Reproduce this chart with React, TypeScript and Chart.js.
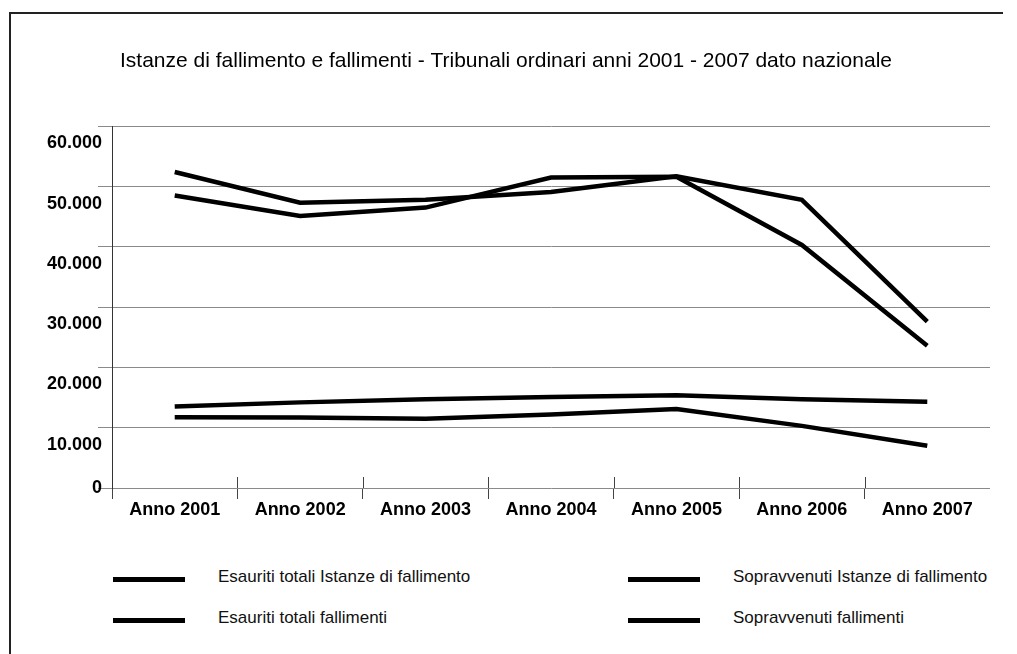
import React, { useEffect, useRef } from 'react';
import { Chart, registerables } from 'chart.js';

Chart.register(...registerables);

const categories = ['Anno 2001', 'Anno 2002', 'Anno 2003', 'Anno 2004', 'Anno 2005', 'Anno 2006', 'Anno 2007'];

const esauritiIstanze = [52400, 47300, 47800, 49100, 51700, 47800, 27600];
const sopravvenutiIstanze = [48500, 45100, 46500, 51500, 51600, 40300, 23600];
const esauritiFallimenti = [13500, 14200, 14700, 15100, 15400, 14700, 14300];
const sopravvenutiFallimenti = [11750, 11700, 11500, 12200, 13100, 10300, 7000];

const seriesLabels = [
  'Esauriti totali Istanze di fallimento',
  'Sopravvenuti Istanze di fallimento',
  'Esauriti totali fallimenti',
  'Sopravvenuti fallimenti',
];

const yTickValues = [0, 10000, 20000, 30000, 40000, 50000, 60000];
const yTickLabels = ['0', '10.000', '20.000', '30.000', '40.000', '50.000', '60.000'];

const titleText = 'Istanze di fallimento e fallimenti - Tribunali ordinari anni 2001 - 2007 dato nazionale';

const FONT = "'Liberation Sans', Arial, Helvetica, sans-serif";

const seriesData = [esauritiIstanze, sopravvenutiIstanze, esauritiFallimenti, sopravvenutiFallimenti];

const crossTicksPlugin = {
  id: 'crossTicks',
  afterDraw(chart: any) {
    const xs = chart.scales.x;
    const ctx = chart.ctx;
    const bottom = chart.chartArea.bottom;
    ctx.save();
    ctx.strokeStyle = '#444';
    ctx.lineWidth = 1;
    for (let i = 1; i < categories.length; i++) {
      const x = Math.round((xs.getPixelForTick(i - 1) + xs.getPixelForTick(i)) / 2) + 0.5;
      ctx.beginPath();
      ctx.moveTo(x, bottom - 11);
      ctx.lineTo(x, bottom);
      ctx.stroke();
    }
    ctx.restore();
  },
};

export default function App() {
  const canvasRef = useRef<HTMLCanvasElement | null>(null);

  useEffect(() => {
    if (!canvasRef.current) return;
    const chart = new Chart(canvasRef.current, {
      type: 'line',
      data: {
        labels: categories,
        datasets: seriesData.map((d, i) => ({
          label: seriesLabels[i],
          data: d,
          borderColor: '#000',
          backgroundColor: '#000',
          borderWidth: 4.5,
          pointRadius: 0,
          pointHoverRadius: 0,
          tension: 0,
          fill: false,
          borderJoinStyle: 'miter' as const,
          borderCapStyle: 'butt' as const,
        })),
      },
      options: {
        responsive: false,
        animation: false,
        devicePixelRatio: 1,
        layout: { padding: { left: 22, right: 27, top: 0, bottom: 0 } },
        plugins: {
          legend: { display: false },
          tooltip: { enabled: false },
          title: {
            display: true,
            text: titleText,
            color: '#000',
            font: { family: FONT, size: 21, weight: 'normal' },
            padding: { top: 49, bottom: 52 },
          },
        },
        scales: {
          x: {
            type: 'category',
            offset: true,
            grid: {
              offset: true,
              drawOnChartArea: false,
              drawTicks: true,
              tickLength: 11,
              color: (ctx: any) => (ctx.type === 'tick' ? '#444' : 'rgba(0,0,0,0)'),
            },
            border: { display: false },
            ticks: {
              color: '#000',
              padding: 0,
              maxRotation: 0,
              autoSkip: false,
              font: { family: FONT, size: 18, weight: 'bold' },
            },
            afterFit: (scale: any) => {
              scale.height = 45;
            },
          },
          y: {
            min: 0,
            max: 60000,
            ticks: {
              stepSize: 10000,
              autoSkip: false,
              color: '#000',
              padding: -4,
              font: { family: FONT, size: 18, weight: 'bold', lineHeight: 1.9 },
              callback: (value: any) => {
                const idx = yTickValues.indexOf(Number(value));
                const label = idx >= 0 ? yTickLabels[idx] : '';
                return Number(value) === 0 ? label : ['', label];
              },
            },
            grid: {
              color: '#8a8a8a',
              lineWidth: 1,
              tickLength: 14,
              drawTicks: true,
            },
            border: { display: true, color: '#333', width: 1 },
            afterFit: (scale: any) => {
              scale.width = 90;
            },
          },
        },
      },
      plugins: [crossTicksPlugin],
    });
    return () => chart.destroy();
  }, []);

  return (
    <div
      style={{
        position: 'fixed',
        left: 0,
        top: 0,
        width: 1017,
        height: 654,
        background: '#fff',
        overflow: 'hidden',
        fontFamily: FONT,
      }}
    >
      <div
        style={{
          position: 'absolute',
          left: 9,
          top: 12,
          width: 992,
          height: 660,
          borderLeft: '2px solid #222',
          borderTop: '2px solid #222',
        }}
      />
      <canvas
        ref={canvasRef}
        width={1017}
        height={533}
        style={{ position: 'absolute', left: 0, top: 0, width: 1017, height: 533, display: 'block' }}
      />
      <div
        style={{
          position: 'absolute',
          left: 113,
          top: 556,
          display: 'grid',
          gridTemplateColumns: '515px 400px',
          gridAutoRows: '41px',
        }}
      >
        {seriesLabels.map((label) => (
          <div key={label} style={{ display: 'flex', alignItems: 'center', height: 41 }}>
            <div style={{ width: 72, height: 5, background: '#000', marginTop: 6, flex: '0 0 auto' }} />
            <div style={{ marginLeft: 33, fontSize: 17, color: '#111', whiteSpace: 'nowrap' }}>{label}</div>
          </div>
        ))}
      </div>
    </div>
  );
}
